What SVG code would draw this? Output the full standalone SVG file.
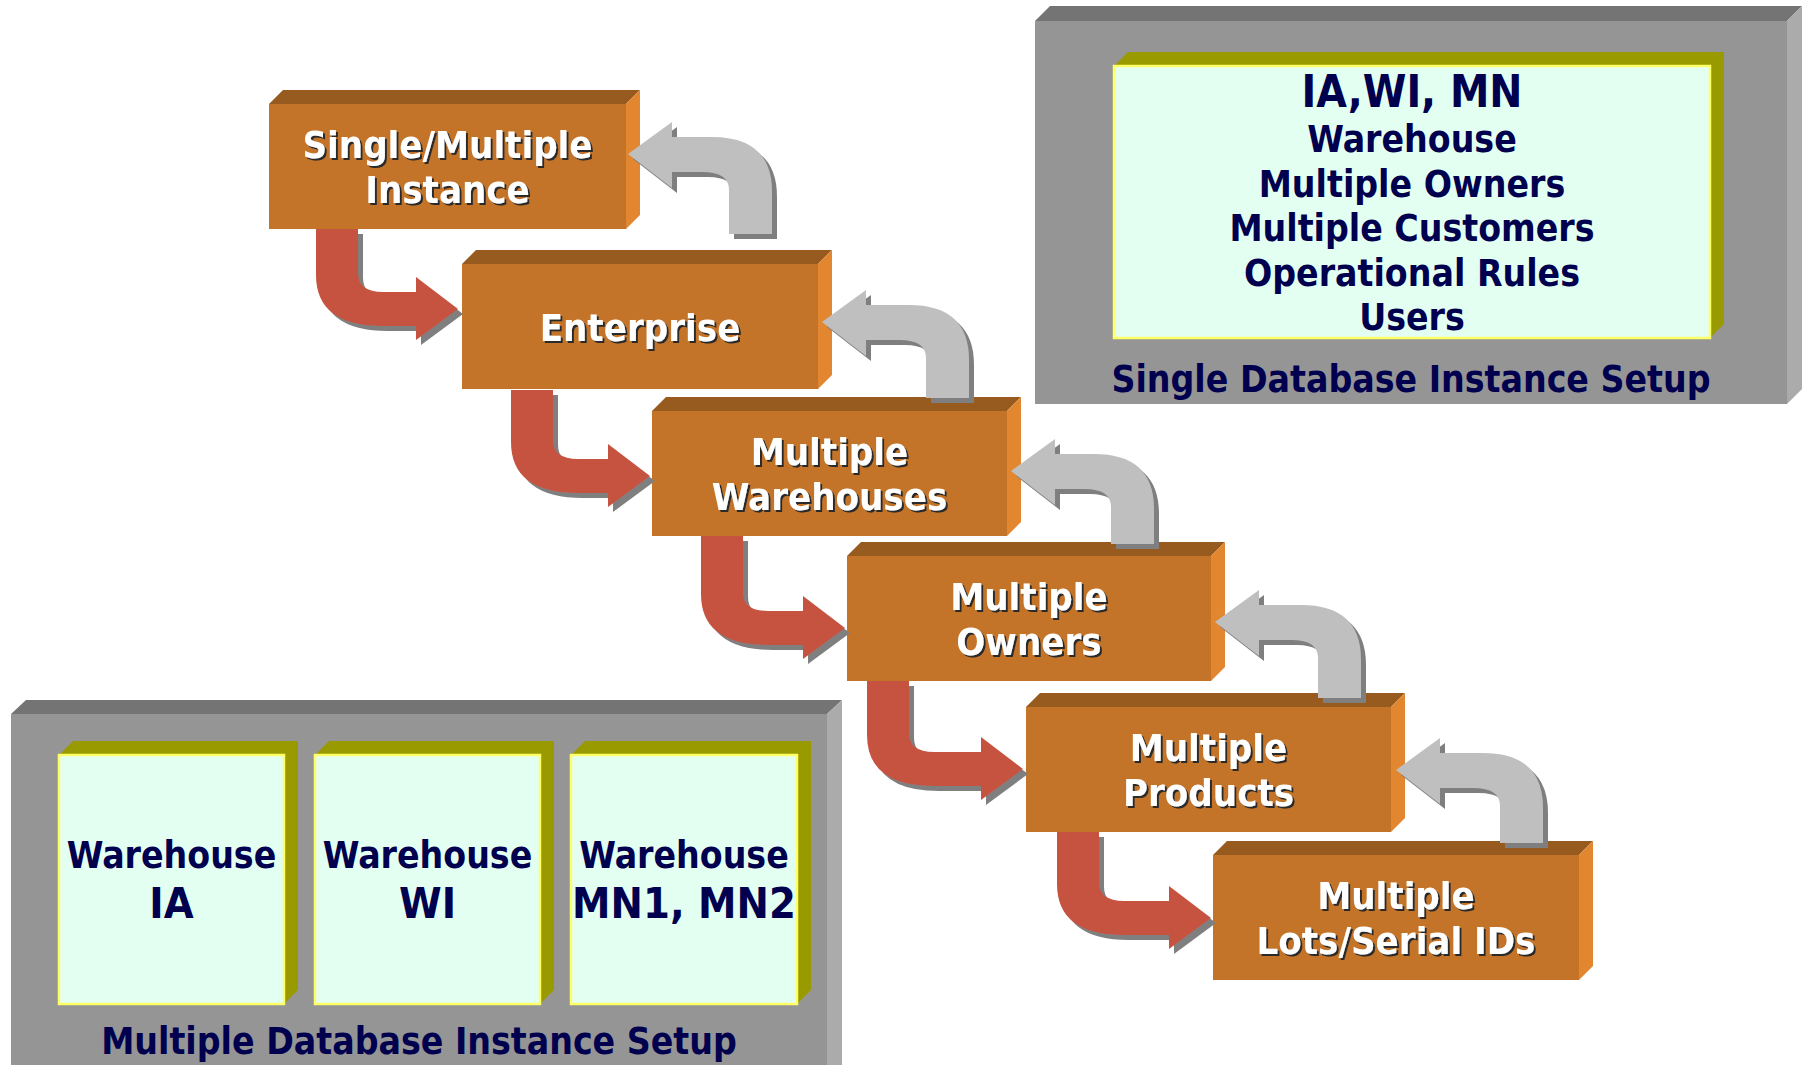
<svg xmlns="http://www.w3.org/2000/svg" width="1806" height="1065" viewBox="0 0 1806 1065">
<defs>
<filter id="sh5" x="-20%" y="-20%" width="140%" height="140%"><feDropShadow dx="5" dy="5" stdDeviation="0" flood-color="#7f7f7f" flood-opacity="1"/></filter>
<filter id="tsh" x="-10%" y="-20%" width="120%" height="150%"><feDropShadow dx="2" dy="2" stdDeviation="0" flood-color="#2a2a2a" flood-opacity="1"/></filter>
<style>
.of{fill:#c47428}.ot{fill:#975b1f}.os{fill:#e2872f}
.gf{fill:#959595}.gt{fill:#747474}.gs{fill:#ababab}
.cf{fill:#e3fff2;stroke:#ffff66;stroke-width:2.5}.ct{fill:#999900}
.red{fill:#c55340;filter:url(#sh5)}.gry{fill:#bfbfbf;filter:url(#sh5)}
text{font-family:"DejaVu Sans Condensed","DejaVu Sans",sans-serif;font-stretch:condensed;font-weight:bold;text-anchor:middle}
.wt{fill:#ffffff;font-size:38px;filter:url(#tsh)}
.nv{fill:#00004f;font-size:37px}
.nb{fill:#00004f;font-size:43px}
</style>
</defs>

<g id="single-db">
<polygon class="gt" points="1035,21 1050,6 1802,6 1787,21"/>
<polygon class="gs" points="1787,21 1802,6 1802,389 1787,404"/>
<rect class="gf" x="1035" y="21" width="752" height="383"/>
<polygon class="ct" points="1114,66 1128,52 1724,52 1724,324 1710,338 1710,66"/>
<rect class="cf" x="1114" y="66" width="596" height="272"/>
<text class="nb" x="1412" y="107" style="font-size:44px">IA,WI, MN</text>
<text class="nv" x="1412" y="152">Warehouse</text>
<text class="nv" x="1412" y="197">Multiple Owners</text>
<text class="nv" x="1412" y="241">Multiple Customers</text>
<text class="nv" x="1412" y="286">Operational Rules</text>
<text class="nv" x="1412" y="330">Users</text>
<text class="nv" x="1411" y="392">Single Database Instance Setup</text>
</g>

<g id="multi-db">
<polygon class="gt" points="11,714 26,700 842,700 827,714"/>
<polygon class="gs" points="827,714 842,700 842,1070 827,1070"/>
<rect class="gf" x="11" y="714" width="816" height="360"/>
<g id="wh-ia">
<polygon class="ct" points="59,755 73,741 298,741 298,990 284,1004 284,755"/>
<rect class="cf" x="59" y="755" width="225" height="249"/>
<text class="nv" x="171.5" y="868">Warehouse</text>
<text class="nb" x="171.5" y="918">IA</text>
</g>
<g id="wh-wi">
<polygon class="ct" points="315,755 329,741 554,741 554,990 540,1004 540,755"/>
<rect class="cf" x="315" y="755" width="225" height="249"/>
<text class="nv" x="427.5" y="868">Warehouse</text>
<text class="nb" x="427.5" y="918">WI</text>
</g>
<g id="wh-mn">
<polygon class="ct" points="571,755 585,741 811,741 811,990 797,1004 797,755"/>
<rect class="cf" x="571" y="755" width="226" height="249"/>
<text class="nv" x="684" y="868">Warehouse</text>
<text class="nb" x="684" y="918">MN1, MN2</text>
</g>
<text class="nv" x="419" y="1054">Multiple Database Instance Setup</text>
</g>

<g id="n1">
<polygon class="ot" points="269,104 283,90 640,90 626,104"/>
<polygon class="os" points="626,104 640,90 640,215 626,229"/>
<rect class="of" x="269" y="104" width="357" height="125"/>
<text class="wt" x="447.5" y="158">Single/Multiple</text>
<text class="wt" x="447.5" y="203">Instance</text>
</g>
<g id="n2">
<polygon class="ot" points="462,264 476,250 832,250 818,264"/>
<polygon class="os" points="818,264 832,250 832,375 818,389"/>
<rect class="of" x="462" y="264" width="356" height="125"/>
<text class="wt" x="640" y="341">Enterprise</text>
</g>
<g id="n3">
<polygon class="ot" points="652,411 666,397 1021,397 1007,411"/>
<polygon class="os" points="1007,411 1021,397 1021,522 1007,536"/>
<rect class="of" x="652" y="411" width="355" height="125"/>
<text class="wt" x="829.5" y="465">Multiple</text>
<text class="wt" x="829.5" y="510">Warehouses</text>
</g>
<g id="n4">
<polygon class="ot" points="847,556 861,542 1225,542 1211,556"/>
<polygon class="os" points="1211,556 1225,542 1225,667 1211,681"/>
<rect class="of" x="847" y="556" width="364" height="125"/>
<text class="wt" x="1029" y="610">Multiple</text>
<text class="wt" x="1029" y="655">Owners</text>
</g>
<g id="n5">
<polygon class="ot" points="1026,707 1040,693 1405,693 1391,707"/>
<polygon class="os" points="1391,707 1405,693 1405,818 1391,832"/>
<rect class="of" x="1026" y="707" width="365" height="125"/>
<text class="wt" x="1208.5" y="761">Multiple</text>
<text class="wt" x="1208.5" y="806">Products</text>
</g>
<g id="n6">
<polygon class="ot" points="1213,855 1227,841 1593,841 1579,855"/>
<polygon class="os" points="1579,855 1593,841 1593,966 1579,980"/>
<rect class="of" x="1213" y="855" width="366" height="125"/>
<text class="wt" x="1396" y="909">Multiple</text>
<text class="wt" x="1396" y="954">Lots/Serial IDs</text>
</g>

<g id="connectors">
<path class="red" d="M316,229 L358,229 L358,273 Q358,292 383,292 L416,292 L416,277 L458,309 L416,340 L416,326 L383,326 Q316,326 316,275 Z"/>
<path class="red" d="M511,390 L553,390 L553,440 Q553,459 578,459 L608,459 L608,444 L650,476 L608,507 L608,493 L578,493 Q511,493 511,442 Z"/>
<path class="red" d="M701,536 L743,536 L743,592 Q743,611 768,611 L803,611 L803,596 L845,628 L803,659 L803,645 L768,645 Q701,645 701,594 Z"/>
<path class="red" d="M867,681 L909,681 L909,733 Q909,752 934,752 L981,752 L981,737 L1023,769 L981,800 L981,786 L934,786 Q867,786 867,735 Z"/>
<path class="red" d="M1057,832 L1099,832 L1099,882 Q1099,901 1124,901 L1169,901 L1169,886 L1211,918 L1169,949 L1169,935 L1124,935 Q1057,935 1057,884 Z"/>
<path class="gry" d="M628,154 L672,122 L672,137 L712,137 Q772,137 772,192 L772,234 L729,234 L729,190 Q729,172 703,172 L672,172 L672,188 Z"/>
<path class="gry" d="M822,322 L866,290 L866,305 L909,305 Q969,305 969,360 L969,398 L926,398 L926,358 Q926,340 900,340 L866,340 L866,356 Z"/>
<path class="gry" d="M1011,471 L1055,439 L1055,454 L1094,454 Q1154,454 1154,509 L1154,544 L1111,544 L1111,507 Q1111,489 1085,489 L1055,489 L1055,505 Z"/>
<path class="gry" d="M1215,622 L1259,590 L1259,605 L1301,605 Q1361,605 1361,660 L1361,698 L1318,698 L1318,658 Q1318,640 1292,640 L1259,640 L1259,656 Z"/>
<path class="gry" d="M1396,770 L1440,738 L1440,753 L1483,753 Q1543,753 1543,808 L1543,843 L1500,843 L1500,806 Q1500,788 1474,788 L1440,788 L1440,804 Z"/>
</g>
</svg>
